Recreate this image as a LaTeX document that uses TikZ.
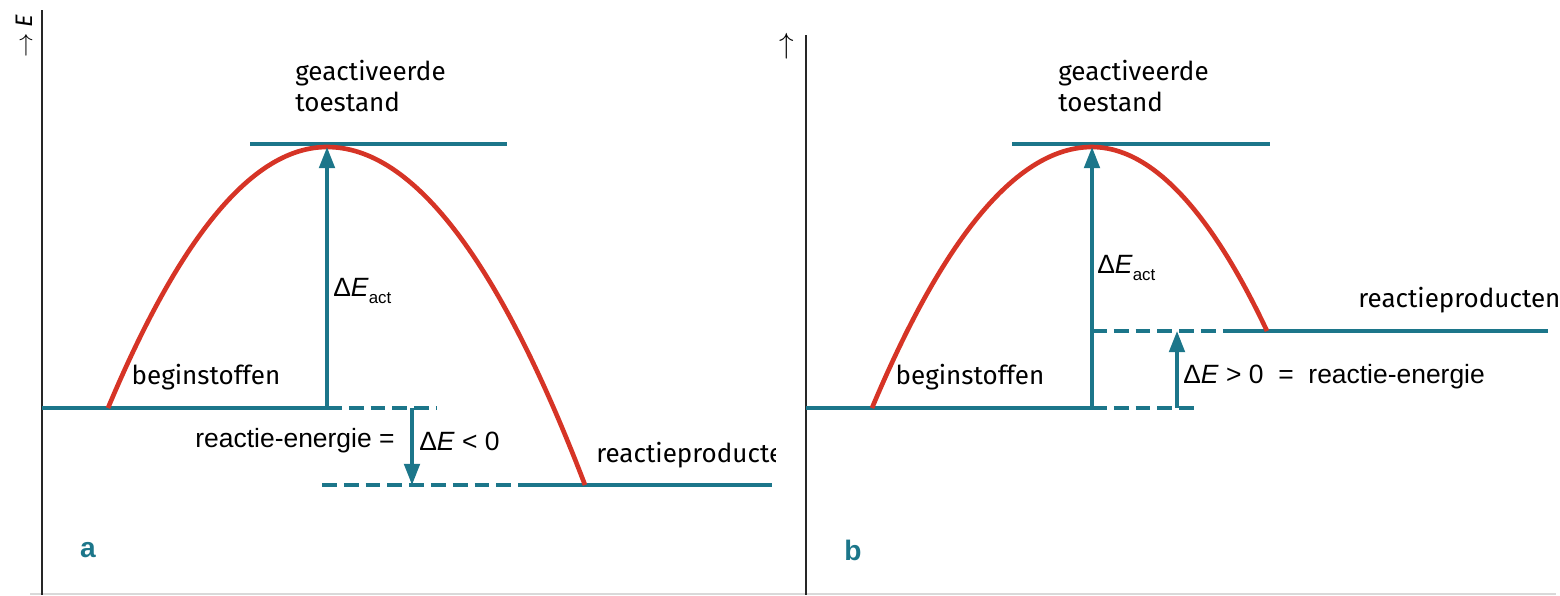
\documentclass[tikz,border=0pt]{standalone}
\usepackage{fontspec}
\setmainfont{Fira Sans}
\newfontfamily\arialfont{Liberation Sans}
\usetikzlibrary{arrows.meta}
\definecolor{levelteal}{RGB}{28,118,138}
\definecolor{curvered}{RGB}{214,52,38}

\begin{document}
\begin{tikzpicture}[x=0.025cm, y=-0.025cm,
    axis/.style={line width=2pt, black!85},
    level/.style={line width=2.5pt, levelteal},
    dashlevel/.style={level, dash pattern=on 10.5pt off 5pt},
    deltaarrow/.style={line width=2.5pt, levelteal, -{Triangle[length=15pt, width=11pt]}},
    barrier/.style={line width=3.3pt, curvered},
    label/.style={font=\fontsize{18.5}{22}\selectfont, inner sep=0pt, align=left},
    formula/.style={font=\arialfont\fontsize{18.8}{22}\selectfont, inner sep=0pt},
    panel/.style={font=\arialfont\bfseries\fontsize{20}{24}\selectfont, text=levelteal, inner sep=0pt}
]
\useasboundingbox (0,0) rectangle (1560,595);

% Points of panel a (exothermic)
\coordinate (aAxisTop) at (42,10);
\coordinate (aAxisBot) at (42,595);
\coordinate (aBase) at (42,408);
\coordinate (aStart) at (108,408);
\coordinate (aPeak) at (327,147);
\coordinate (aFoot) at (327,408);
\coordinate (aDashEnd) at (437,408);
\coordinate (aDeltaTop) at (412,408);
\coordinate (aDeltaBot) at (412,485);
\coordinate (aProdDash) at (322,485);
\coordinate (aProdSolid) at (528,485);
\coordinate (aEnd) at (585,485);
\coordinate (aProdEnd) at (772,485);
\coordinate (aTopL) at (250,144);
\coordinate (aTopR) at (507,144);

% Points of panel b (endothermic)
\coordinate (bAxisTop) at (806,35);
\coordinate (bAxisBot) at (806,595);
\coordinate (bBase) at (806,408);
\coordinate (bStart) at (872,408);
\coordinate (bPeak) at (1092,147);
\coordinate (bFoot) at (1092,408);
\coordinate (bDashEnd) at (1200,408);
\coordinate (bDeltaBot) at (1177,408);
\coordinate (bDeltaTop) at (1177,331);
\coordinate (bProdDash) at (1092,331);
\coordinate (bProdSolid) at (1237,331);
\coordinate (bEnd) at (1267,331);
\coordinate (bProdEnd) at (1548,331);
\coordinate (bTopL) at (1012,144);
\coordinate (bTopR) at (1270,144);

% Axes
\draw[gray!30, line width=1.2pt] (30,594) -- (1556,594);
\draw[axis] (aAxisTop) -- (aAxisBot);
\draw[axis] (bAxisTop) -- (bAxisBot);
\node[rotate=90, inner sep=0pt, font=\fontsize{17}{20}\selectfont] (aAxisLabel) at (24,36) {$\rightarrow$ \textit{E}};
\node[inner sep=0pt, font=\fontsize{20}{24}\selectfont] (bAxisLabel) at (787,46) {$\uparrow$};

% Panel a
\draw[level] (aTopL) -- (aTopR);
\draw[level] (aBase) -- (aFoot);
\draw[dashlevel] (aFoot) -- (aDashEnd);
\draw[dashlevel] (aProdDash) -- (aProdSolid);
\draw[level] (aProdSolid) -- (aProdEnd);
\draw[barrier] (aStart) .. controls (181,234) and (254,147) .. (aPeak)
  .. controls (413,147) and (499,260) .. (aEnd);
\draw[deltaarrow] (aFoot) -- (aPeak);
\draw[deltaarrow] (aDeltaTop) -- (aDeltaBot);

\node[label, anchor=north west] (aActive) at (295,60) {geactiveerde\\toestand};
\node[label] (aReact) at (206,377) {beginstoffen};
\node[formula, anchor=west] (aActLabel) at (333,291) {Δ\textit{E}\raisebox{-0.45ex}{\fontsize{12}{12}\selectfont act}};
\node[formula] (aEnergy) at (295,441) {reactie-energie =};
\node[formula, anchor=west] (aDelta) at (419,441) {Δ\textit{E} < 0};
\begin{scope}
  \clip (580,400) rectangle (775,480);
  \node[label, anchor=west] (aProd) at (596,455) {reactieproducten};
\end{scope}
\node[panel] (aTag) at (88,550) {a};

% Panel b
\draw[level] (bTopL) -- (bTopR);
\draw[level] (bBase) -- (bFoot);
\draw[dashlevel] (bFoot) -- (bDashEnd);
\draw[dashlevel] (bProdDash) -- (bProdSolid);
\draw[level] (bProdSolid) -- (bProdEnd);
\draw[barrier] (bStart) .. controls (945,234) and (1019,147) .. (bPeak)
  .. controls (1150,147) and (1209,208) .. (bEnd);
\draw[deltaarrow] (bFoot) -- (bPeak);
\draw[deltaarrow] (bDeltaBot) -- (bDeltaTop);

\node[label, anchor=north west] (bActive) at (1058,60) {geactiveerde\\toestand};
\node[label] (bReact) at (970,377) {beginstoffen};
\node[formula, anchor=west] (bActLabel) at (1097,268) {Δ\textit{E}\raisebox{-0.45ex}{\fontsize{12}{12}\selectfont act}};
\node[formula, anchor=west] (bDelta) at (1183,377) {Δ\textit{E} > 0 \ = \ reactie-energie};
\node[label, anchor=west] (bProd) at (1358,300) {reactieproducten};
\node[panel] (bTag) at (853,550) {b};

\end{tikzpicture}
\end{document}
